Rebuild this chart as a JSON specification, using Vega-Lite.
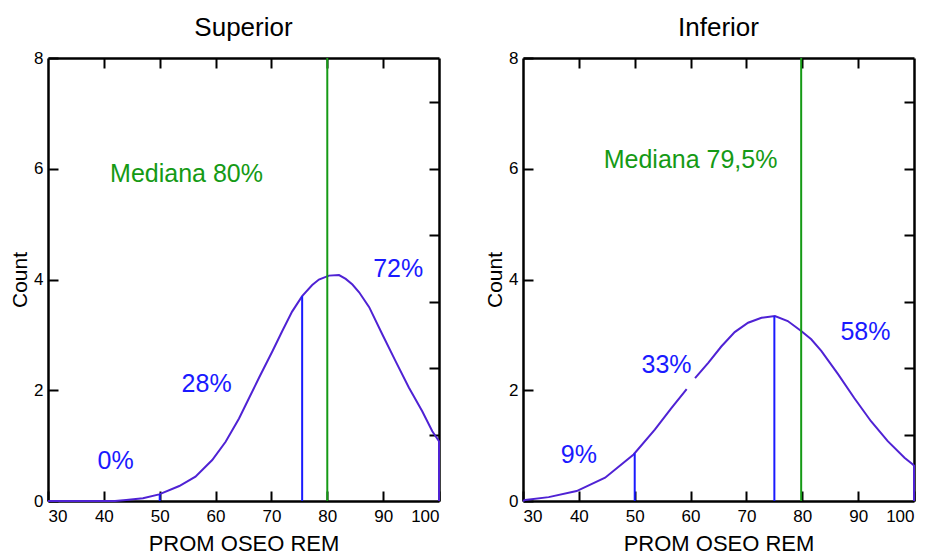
{
  "$schema": "https://vega.github.io/schema/vega-lite/v6.json",
  "background": "white",
  "padding": {"left": 9, "top": 15, "right": 5, "bottom": 5},
  "spacing": 41,
  "datasets": {
    "sup_curve": [
      {"x": 30, "y": 0}, {"x": 42, "y": 0}, {"x": 44, "y": 0.02}, {"x": 47, "y": 0.05}, {"x": 49.9, "y": 0.12},
      {"x": 53.5, "y": 0.27}, {"x": 56.4, "y": 0.44}, {"x": 59.4, "y": 0.74}, {"x": 61.8, "y": 1.07}, {"x": 64.2, "y": 1.49},
      {"x": 66.0, "y": 1.86}, {"x": 67.8, "y": 2.23}, {"x": 70.2, "y": 2.71}, {"x": 71.9, "y": 3.06}, {"x": 73.7, "y": 3.42},
      {"x": 75.5, "y": 3.7}, {"x": 77.3, "y": 3.9}, {"x": 78.5, "y": 4.0}, {"x": 80.3, "y": 4.07}, {"x": 82.1, "y": 4.08},
      {"x": 83.3, "y": 4.01}, {"x": 84.5, "y": 3.91}, {"x": 85.7, "y": 3.77}, {"x": 87.5, "y": 3.5}, {"x": 89.8, "y": 3.02},
      {"x": 92.2, "y": 2.53}, {"x": 94.6, "y": 2.05}, {"x": 97.0, "y": 1.62}, {"x": 98.8, "y": 1.26}, {"x": 100, "y": 1.08},
      {"x": 100, "y": 0}
    ],
    "inf_curve": [
      {"x": 30, "y": 0, "seg": "a"}, {"x": 30.4, "y": 0.02, "seg": "a"}, {"x": 34.6, "y": 0.07, "seg": "a"}, {"x": 39.6, "y": 0.18, "seg": "a"},
      {"x": 44.7, "y": 0.42, "seg": "a"}, {"x": 49.8, "y": 0.84, "seg": "a"}, {"x": 53.6, "y": 1.29, "seg": "a"}, {"x": 56.6, "y": 1.68, "seg": "a"},
      {"x": 59.3, "y": 2.02, "seg": "a"},
      {"x": 60.8, "y": 2.22, "seg": "b"}, {"x": 63.2, "y": 2.5, "seg": "b"}, {"x": 65.5, "y": 2.79, "seg": "b"}, {"x": 67.9, "y": 3.05, "seg": "b"},
      {"x": 70.3, "y": 3.22, "seg": "b"}, {"x": 72.7, "y": 3.31, "seg": "b"}, {"x": 75.1, "y": 3.34, "seg": "b"}, {"x": 77.4, "y": 3.25, "seg": "b"},
      {"x": 79.8, "y": 3.07, "seg": "b"}, {"x": 81.6, "y": 2.92, "seg": "b"}, {"x": 83.4, "y": 2.71, "seg": "b"}, {"x": 86.4, "y": 2.29, "seg": "b"},
      {"x": 89.3, "y": 1.86, "seg": "b"}, {"x": 92.3, "y": 1.44, "seg": "b"}, {"x": 95.3, "y": 1.08, "seg": "b"}, {"x": 98.3, "y": 0.78, "seg": "b"},
      {"x": 99.8, "y": 0.66, "seg": "b"}, {"x": 100, "y": 0.64, "seg": "b"}, {"x": 100, "y": 0, "seg": "b"}
    ],
    "sup_cuts": [{"x": 50, "top": 0.12}, {"x": 75.5, "top": 3.7}],
    "inf_cuts": [{"x": 50, "top": 0.86}, {"x": 75, "top": 3.34}],
    "sup_median": [{"x": 80}],
    "inf_median": [{"x": 79.8}],
    "sup_text": [
      {"x": 54.8, "y": 5.9, "label": "Mediana 80%", "kind": "median"},
      {"x": 92.7, "y": 4.19, "label": "72%", "kind": "pct"},
      {"x": 58.4, "y": 2.11, "label": "28%", "kind": "pct"},
      {"x": 42.1, "y": 0.72, "label": "0%", "kind": "pct"}
    ],
    "inf_text": [
      {"x": 60.0, "y": 6.16, "label": "Mediana  79,5%", "kind": "median"},
      {"x": 91.3, "y": 3.05, "label": "58%", "kind": "pct"},
      {"x": 55.7, "y": 2.45, "label": "33%", "kind": "pct"},
      {"x": 40.0, "y": 0.83, "label": "9%", "kind": "pct"}
    ]
  },
  "hconcat": [
    {
      "width": 391,
      "height": 443,
      "title": {"text": "Superior", "fontSize": 26, "fontWeight": "normal", "font": "Liberation Sans", "anchor": "middle", "frame": "group", "offset": 8, "color": "black"},
      "resolve": {"axis": {"x": "independent", "y": "independent"}},
      "layer": [
        {
          "data": {"name": "sup_curve"},
          "mark": {"type": "line", "color": "#4f22d4", "strokeWidth": 2},
          "encoding": {
            "x": {"field": "x", "type": "quantitative", "scale": {"domain": [30, 100], "nice": false, "zero": false},
              "axis": {"orient": "bottom", "values": [30, 40, 50, 60, 70, 80, 90, 100], "title": "PROM OSEO REM"}},
            "y": {"field": "y", "type": "quantitative", "scale": {"domain": [0, 8], "nice": false},
              "axis": {"orient": "left", "values": [0, 2, 4, 6, 8], "title": "Count"}}
          }
        },
        {
          "data": {"name": "sup_cuts"},
          "mark": {"type": "rule", "color": "#1a1aff", "strokeWidth": 2},
          "encoding": {
            "x": {"field": "x", "type": "quantitative",
              "axis": {"orient": "top", "values": [40, 50, 60, 70, 80, 90], "labels": false, "title": null}},
            "y": {"field": "top", "type": "quantitative",
              "axis": {"orient": "right", "values": [1.2, 2.4, 3.6, 4.8, 6.0, 7.2], "labels": false, "title": null}},
            "y2": {"datum": 0}
          }
        },
        {
          "data": {"name": "sup_median"},
          "mark": {"type": "rule", "color": "#159a15", "strokeWidth": 2},
          "encoding": {
            "x": {"field": "x", "type": "quantitative", "axis": null}
          }
        },
        {
          "data": {"name": "sup_text"},
          "mark": {"type": "text", "fontSize": 25, "font": "Liberation Sans", "align": "center", "baseline": "middle"},
          "encoding": {
            "x": {"field": "x", "type": "quantitative", "axis": null},
            "y": {"field": "y", "type": "quantitative", "axis": null},
            "text": {"field": "label"},
            "color": {"field": "kind", "type": "nominal", "scale": {"domain": ["median", "pct"], "range": ["#159a15", "#1a1aff"]}, "legend": null}
          }
        }
      ]
    },
    {
      "width": 391,
      "height": 443,
      "title": {"text": "Inferior", "fontSize": 26, "fontWeight": "normal", "font": "Liberation Sans", "anchor": "middle", "frame": "group", "offset": 8, "color": "black"},
      "resolve": {"axis": {"x": "independent", "y": "independent"}},
      "layer": [
        {
          "data": {"name": "inf_curve"},
          "mark": {"type": "line", "color": "#4f22d4", "strokeWidth": 2},
          "encoding": {
            "x": {"field": "x", "type": "quantitative", "scale": {"domain": [30, 100], "nice": false, "zero": false},
              "axis": {"orient": "bottom", "values": [30, 40, 50, 60, 70, 80, 90, 100], "title": "PROM OSEO REM"}},
            "y": {"field": "y", "type": "quantitative", "scale": {"domain": [0, 8], "nice": false},
              "axis": {"orient": "left", "values": [0, 2, 4, 6, 8], "title": "Count"}},
            "detail": {"field": "seg", "type": "nominal"}
          }
        },
        {
          "data": {"name": "inf_cuts"},
          "mark": {"type": "rule", "color": "#1a1aff", "strokeWidth": 2},
          "encoding": {
            "x": {"field": "x", "type": "quantitative",
              "axis": {"orient": "top", "values": [40, 50, 60, 70, 80, 90], "labels": false, "title": null}},
            "y": {"field": "top", "type": "quantitative",
              "axis": {"orient": "right", "values": [1.2, 2.4, 3.6, 4.8, 6.0, 7.2], "labels": false, "title": null}},
            "y2": {"datum": 0}
          }
        },
        {
          "data": {"name": "inf_median"},
          "mark": {"type": "rule", "color": "#159a15", "strokeWidth": 2},
          "encoding": {
            "x": {"field": "x", "type": "quantitative", "axis": null}
          }
        },
        {
          "data": {"name": "inf_text"},
          "mark": {"type": "text", "fontSize": 25, "font": "Liberation Sans", "align": "center", "baseline": "middle"},
          "encoding": {
            "x": {"field": "x", "type": "quantitative", "axis": null},
            "y": {"field": "y", "type": "quantitative", "axis": null},
            "text": {"field": "label"},
            "color": {"field": "kind", "type": "nominal", "scale": {"domain": ["median", "pct"], "range": ["#159a15", "#1a1aff"]}, "legend": null}
          }
        }
      ]
    }
  ],
  "config": {
    "view": {"stroke": null},
    "axis": {
      "grid": false,
      "domainColor": "black",
      "domainWidth": 2.5,
      "tickColor": "black",
      "tickWidth": 2,
      "tickSize": -10,
      "labelFont": "Liberation Sans",
      "labelFontSize": 17,
      "labelColor": "black",
      "titleFont": "Liberation Sans",
      "titleColor": "black",
      "titleFontWeight": "normal"
    },
    "axisBottom": {"labelPadding": 17, "titleFontSize": 22, "titlePadding": 9},
    "axisLeft": {"labelPadding": 15, "titleFontSize": 21, "titlePadding": 3}
  }
}
